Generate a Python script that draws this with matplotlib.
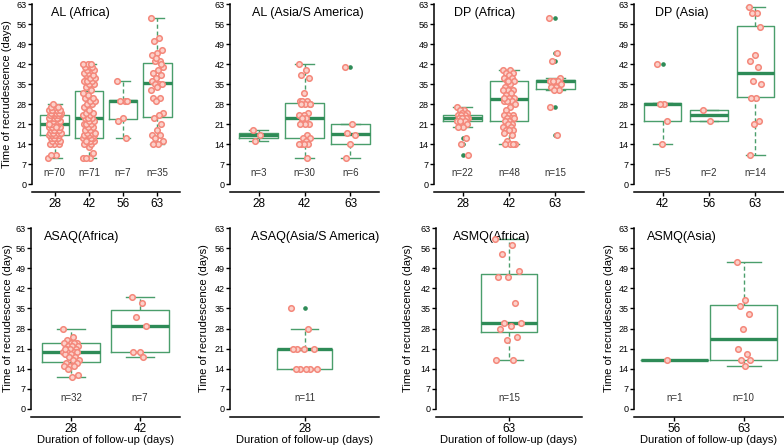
import numpy as np
import matplotlib.pyplot as plt

plt.rcParams['font.family'] = ['Liberation Sans', 'DejaVu Sans']

# ---- data (days) ----
# box stats per group: (lower whisker, q1, median, q3, upper whisker)
al_africa_days = ['28', '42', '56', '63']
al_africa_vals = [
    [9, 10, 10, 14, 14, 14, 15, 15, 15, 16, 16, 16, 16, 17, 17, 17, 17, 17, 18, 18, 18, 18,
     19, 19, 19, 19, 20, 20, 20, 20, 21, 21, 21, 21, 21, 21, 21, 22, 22, 22, 22, 22, 22,
     23, 23, 23, 23, 23, 23, 24, 24, 24, 24, 24, 25, 25, 25, 25, 25, 26, 26, 26, 26, 26,
     27, 27, 27, 28, 21, 20],
    [9, 9, 9, 11, 13, 14, 14, 15, 15, 15, 16, 16, 16, 16, 16, 17, 17, 17, 17, 18, 18, 18,
     19, 19, 20, 20, 21, 21, 21, 22, 22, 23, 23, 23, 24, 24, 25, 25, 26, 27, 28, 28, 29, 29,
     30, 30, 31, 32, 33, 34, 35, 35, 36, 36, 36, 37, 37, 38, 38, 39, 39, 40, 40, 40, 41, 41,
     41, 42, 42, 42, 15],
    [36, 29, 29, 29, 23, 22, 16],
    [58, 51, 50, 47, 46, 45, 43, 43, 41, 40, 39, 38, 37, 36, 35, 35, 35, 34, 30, 30,
     29, 25, 24, 23, 21, 19, 17, 17, 16, 15, 14, 14, 42, 44, 33],
]
al_africa_box = [(9, 17, 21, 24, 28), (9, 16, 23, 32.7, 42), (16, 22.6, 29, 29.4, 36), (14, 23.6, 35.2, 42.2, 58)]
al_africa_out = [[], [], [], []]

al_asia_days = ['28', '42', '63']
al_asia_vals = [
    [19, 17, 15],
    [42, 40, 38, 37, 32, 29, 29, 29, 28, 28, 28, 25, 24, 24, 23, 22, 21, 21, 21, 17,
     16, 16, 15, 14, 14, 14, 14, 9, 23, 28],
    [41, 21, 18, 17, 14, 9],
]
al_asia_box = [(15, 16, 17, 18, 19), (9, 16, 23, 28.2, 42), (9, 14, 17.5, 21, 21)]
al_asia_out = [[], [], [41]]

dp_africa_days = ['28', '42', '63']
dp_africa_vals = [
    [27, 26, 26, 25, 25, 24, 24, 24, 23, 23, 23, 23, 23, 22, 22, 22, 21, 20, 20, 16, 14, 10],
    [40, 40, 39, 39, 38, 37, 37, 36, 36, 35, 34, 33, 33, 33, 32, 31, 30, 30, 29, 29, 29, 28,
     27, 26, 24, 24, 24, 23, 23, 23, 22, 22, 21, 21, 20, 20, 19, 19, 19, 18, 17, 15, 14, 14,
     14, 14, 36, 30],
    [58, 46, 43, 37, 36, 36, 36, 36, 35, 34, 34, 33, 33, 27, 17],
]
dp_africa_box = [(20, 22.2, 23, 24.2, 27), (14, 22, 29.6, 36.2, 40), (33, 33.1, 36, 36.4, 37)]
dp_africa_out = [[16, 14, 10], [], [58, 46, 43, 27, 17]]

dp_asia_days = ['42', '56', '63']
dp_asia_vals = [
    [42, 28, 28, 22, 14],
    [26, 22],
    [62, 60, 60, 55, 45, 43, 41, 36, 35, 30, 30, 22, 21, 10],
]
dp_asia_box = [(14, 22, 28, 28.4, 28.4), (22, 22, 24, 26, 26), (10, 30.3, 38.7, 55.3, 62)]
dp_asia_out = [[42], [], []]

asaq_africa_days = ['28', '42']
asaq_africa_vals = [
    [28, 25, 24, 23, 23, 23, 23, 22, 22, 22, 21, 21, 21, 20, 20, 20, 20, 19, 19, 18, 18,
     17, 17, 16, 16, 15, 15, 15, 14, 12, 11, 21],
    [39, 37, 32, 29, 20, 20, 18],
]
asaq_africa_box = [(11, 16.3, 20, 22.9, 28), (18, 20, 29, 34.6, 39)]
asaq_africa_out = [[], []]

asaq_asia_days = ['28']
asaq_asia_vals = [[35, 28, 21, 21, 21, 21, 14, 14, 14, 14, 14]]
asaq_asia_box = [(14, 14, 21, 21, 28)]
asaq_asia_out = [[35]]

asmq_africa_days = ['63']
asmq_africa_vals = [[59, 57, 54, 48, 46, 46, 37, 30, 30, 29, 28, 25, 24, 17, 17]]
asmq_africa_box = [(17, 26.7, 30, 47, 59)]
asmq_africa_out = [[]]

asmq_asia_days = ['56', '63']
asmq_asia_vals = [[17], [51, 38, 36, 33, 28, 21, 19, 17, 17, 15]]
asmq_asia_box = [(17, 17, 17, 17, 17), (15, 17, 24.5, 36.3, 51)]
asmq_asia_out = [[], []]

titles = ['AL (Africa)', 'AL (Asia/S America)', 'DP (Africa)', 'DP (Asia)',
          'ASAQ(Africa)', 'ASAQ(Asia/S America)', 'ASMQ(Africa)', 'ASMQ(Asia)']
panels = [
    (al_africa_days, al_africa_vals, al_africa_box, al_africa_out),
    (al_asia_days, al_asia_vals, al_asia_box, al_asia_out),
    (dp_africa_days, dp_africa_vals, dp_africa_box, dp_africa_out),
    (dp_asia_days, dp_asia_vals, dp_asia_box, dp_asia_out),
    (asaq_africa_days, asaq_africa_vals, asaq_africa_box, asaq_africa_out),
    (asaq_asia_days, asaq_asia_vals, asaq_asia_box, asaq_asia_out),
    (asmq_africa_days, asmq_africa_vals, asmq_africa_box, asmq_africa_out),
    (asmq_asia_days, asmq_asia_vals, asmq_asia_box, asmq_asia_out),
]

# ---- layout (pixels) ----
W, H = 784, 446
layout = [(32, 148, 4, 184), (230, 149, 4, 184), (434, 150, 4, 184), (634, 150, 4, 184),
          (31, 149, 228, 409), (230, 149, 228, 409), (436, 146, 228, 409), (634, 150, 228, 409)]
box_w = [0.83, 0.83, 0.83, 0.8, 0.83, 0.4, 0.41, 0.97]
jit = [0.18, 0.13, 0.13, 0.13, 0.12, 0.1, 0.1, 0.1]
title_x = [0.33, 0.52, 0.34, 0.32, 0.34, 0.57, 0.38, 0.32]
ylab_x = [12, None, None, None, 13, 209, 413, 614]

box_c = '#4a9e6b'
med_c = '#2e8b57'
pt_edge = '#f4877a'
pt_face = '#fcd0c9'

fig = plt.figure(figsize=(W / 100, H / 100), dpi=100)

for i, (days, vals, box, out) in enumerate(panels):
    l, w, t, b = layout[i]
    ax = fig.add_axes([l / W, 1 - b / H, w / W, (b - t) / H])
    k = len(days)
    pos = np.arange(1, k + 1)
    stats = [dict(whislo=s[0], q1=s[1], med=s[2], q3=s[3], whishi=s[4], fliers=o)
             for s, o in zip(box, out)]
    ax.bxp(stats, positions=pos, widths=box_w[i], capwidths=box_w[i] * 0.5,
           boxprops=dict(color=box_c, lw=1),
           medianprops=dict(color=med_c, lw=2.4, solid_capstyle='butt'),
           whiskerprops=dict(color=box_c, lw=1, ls=(0, (3, 2))),
           capprops=dict(color=box_c, lw=1),
           flierprops=dict(marker='o', ms=2.3, mfc=med_c, mec=med_c))
    # jittered raw points
    for j, v in enumerate(vals):
        n = len(v)
        off = ((np.arange(n) * 0.618034) % 1 - 0.5) * 2 * jit[i]
        ax.plot(pos[j] + off, v, 'o', ms=4, mfc=pt_face, mec=pt_edge, mew=1.1,
                zorder=4, clip_on=False)
        ax.text(pos[j], 4, f'n={n}', ha='center', va='center', fontsize=7, color='#333333')

    ax.set_xlim(0.5 - 0.04 * k, k + 0.5 + 0.04 * k)
    ax.set_ylim(0, 63)
    ax.set_yticks(range(0, 64, 7))
    ax.set_xticks(pos, days)
    ax.text(title_x[i], 60 / 63, titles[i], transform=ax.transAxes,
            ha='center', va='center', fontsize=9)
    for s in ['top', 'right']:
        ax.spines[s].set_visible(False)
    ax.spines['bottom'].set_position(('outward', 5.8))
    for s in ['left', 'bottom']:
        ax.spines[s].set_linewidth(1.1)
    ax.tick_params(axis='y', labelsize=6.5, length=3, width=1, pad=1)
    ax.tick_params(axis='x', labelsize=8.5, length=3, width=1, pad=1.5)
    if ylab_x[i] is not None:
        ax.set_ylabel('Time of recrudescence (days)', fontsize=8)
        ax.yaxis.set_label_coords((ylab_x[i] - l) / w, 0.5)
    if i >= 4:
        ax.set_xlabel('Duration of follow-up (days)', fontsize=8)
        ax.xaxis.set_label_coords(0.5, -(435 - b) / (b - t))

fig.savefig('out.png', dpi=100)
